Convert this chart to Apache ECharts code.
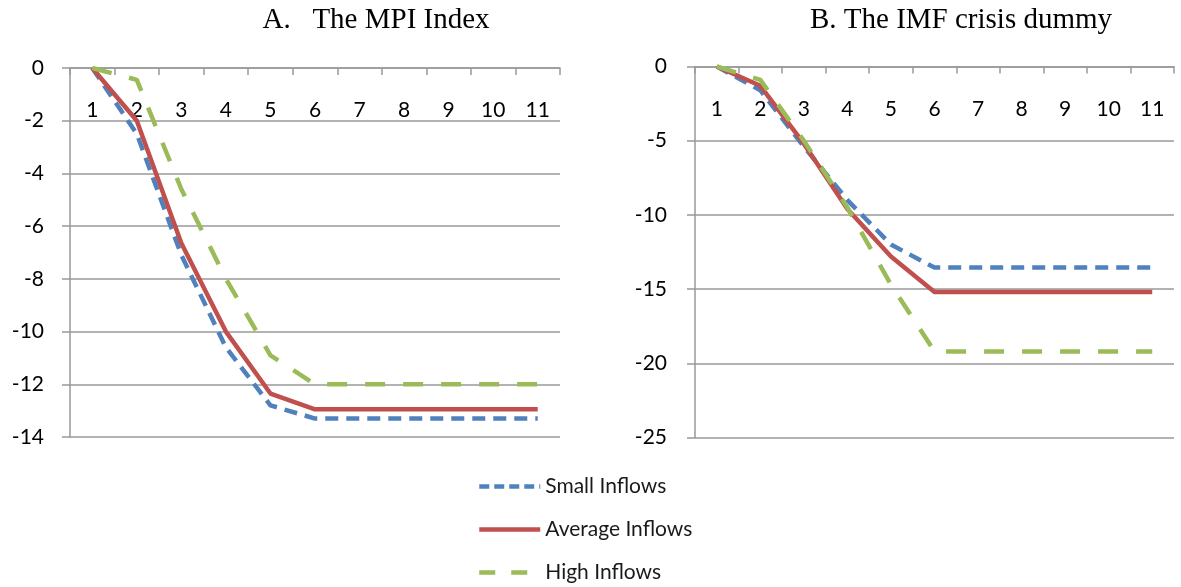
<!DOCTYPE html>
<html>
<head>
<meta charset="utf-8">
<script src="https://cdn.jsdelivr.net/npm/echarts@6/dist/echarts.min.js"></script>
<style>
html,body{margin:0;padding:0;background:#fff;}
#chart{width:1181px;height:587px;}
</style>
</head>
<body>
<div id="chart"></div>
<script>
// ---- data ----
const categories = ['1','2','3','4','5','6','7','8','9','10','11'];
const seriesNames = ['Small Inflows','Average Inflows','High Inflows'];
const titleA = 'A.   The MPI Index';
const titleB = 'B. The IMF crisis dummy';
// Panel A: MPI index
const mpiSmall   = [0, -2.5, -7.1, -10.6, -12.8, -13.3, -13.3, -13.3, -13.3, -13.3, -13.3];
const mpiAverage = [0, -2.0, -6.65, -10.0, -12.35, -12.95, -12.95, -12.95, -12.95, -12.95, -12.95];
const mpiHigh    = [0, -0.45, -4.6, -8.0, -10.9, -12.0, -12.0, -12.0, -12.0, -12.0, -12.0];
// Panel B: IMF crisis dummy
const imfSmall   = [0, -1.6, -5.4, -9.0, -12.0, -13.55, -13.55, -13.55, -13.55, -13.55, -13.55];
const imfAverage = [0, -1.3, -5.2, -9.6, -12.8, -15.2, -15.2, -15.2, -15.2, -15.2, -15.2];
const imfHigh    = [0, -0.9, -5.0, -9.5, -14.7, -19.2, -19.2, -19.2, -19.2, -19.2, -19.2];
// y-axis ranges
const yA = {min: -14, max: 0, interval: 2};
const yB = {min: -25, max: 0, interval: 5};

// ---- styles ----
const colors = ['#4F81BD', '#C0504D', '#9BBB59'];
const dashes = [[13, 8], 'solid', [20, 18]];
const legendDashes = [[10, 5], 'solid', [16, 16]];
const gridGray = '#999999';
const labelFont = 'Lato';

function xAxisCfg(gridIndex) {
  return {
    type: 'category', gridIndex: gridIndex, data: categories,
    position: 'top', boundaryGap: true,
    axisLine: {show: true, onZero: false, lineStyle: {color: gridGray, width: 1.5}},
    axisTick: {show: true, inside: true, length: 7, alignWithLabel: false, lineStyle: {color: gridGray, width: 1.5}},
    axisLabel: {inside: true, margin: 32, color: '#000', fontFamily: labelFont, fontSize: 21, interval: 0},
    splitLine: {show: false}
  };
}
function yAxisCfg(gridIndex, r, margin) {
  return {
    type: 'value', gridIndex: gridIndex, min: r.min, max: r.max, interval: r.interval,
    axisLine: {show: true, lineStyle: {color: gridGray, width: 1.5}},
    axisTick: {show: true, inside: false, length: 8, lineStyle: {color: gridGray, width: 1.5}},
    axisLabel: {margin: margin, color: '#000', fontFamily: labelFont, fontSize: 21},
    splitLine: {show: true, lineStyle: {color: gridGray, width: 1.5}}
  };
}
function lineSeries(name, idx, data, gi) {
  return {
    name: name, type: 'line', xAxisIndex: gi, yAxisIndex: gi, data: data,
    symbol: 'none', showSymbol: false, smooth: false, animation: false,
    lineStyle: {color: colors[idx], width: 4.5, type: dashes[idx], cap: 'butt', join: 'round'},
    itemStyle: {color: colors[idx]}
  };
}

const chart = echarts.init(document.getElementById('chart'), null, {renderer: 'canvas'});
chart.setOption({
  animation: false,
  backgroundColor: '#fff',
  graphic: [
    {type: 'text', x: 376, y: 20, style: {text: titleA, fontFamily: 'Liberation Serif', fontSize: 29, fill: '#000', textAlign: 'center', textVerticalAlign: 'middle'}},
    {type: 'text', x: 961, y: 20, style: {text: titleB, fontFamily: 'Liberation Serif', fontSize: 29, fill: '#000', textAlign: 'center', textVerticalAlign: 'middle'}}
  ],
  grid: [
    {left: 70, top: 68, width: 490, height: 369, containLabel: false},
    {left: 695, top: 66.5, width: 479, height: 371, containLabel: false}
  ],
  xAxis: [xAxisCfg(0), xAxisCfg(1)],
  yAxis: [yAxisCfg(0, yA, 26), yAxisCfg(1, yB, 28)],
  legend: {
    orient: 'vertical', left: 477, top: 476, padding: 0, height: 120,
    itemWidth: 61, itemHeight: 14, itemGap: 22,
    itemStyle: {opacity: 0},
    data: seriesNames.map(function (n, i) {
      return {name: n, lineStyle: {type: legendDashes[i], width: 4.5}, itemStyle: {opacity: 0}};
    }),
    textStyle: {color: '#1a1a1a', fontFamily: labelFont, fontSize: 21, lineHeight: 21}
  },
  series: [
    lineSeries(seriesNames[0], 0, mpiSmall, 0),
    lineSeries(seriesNames[1], 1, mpiAverage, 0),
    lineSeries(seriesNames[2], 2, mpiHigh, 0),
    lineSeries(seriesNames[0], 0, imfSmall, 1),
    lineSeries(seriesNames[1], 1, imfAverage, 1),
    lineSeries(seriesNames[2], 2, imfHigh, 1)
  ]
});
</script>
</body>
</html>
